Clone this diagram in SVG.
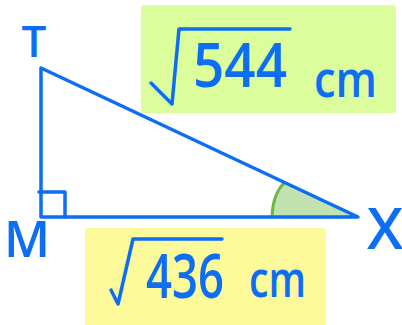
<svg xmlns="http://www.w3.org/2000/svg" width="402" height="325" viewBox="0 0 402 325">
<style>
.edge{fill:none;stroke:#0d6ef4;stroke-width:3.5;stroke-linecap:round;stroke-linejoin:round}
.lbl{fill:#0d6ef4;font-family:"Open Sans","Liberation Sans",sans-serif;font-weight:600}
.rad{fill:none;stroke:#0d6ef4;stroke-width:3.5;stroke-linecap:round;stroke-linejoin:round}
</style>
<rect width="402" height="325" fill="#ffffff"/>
<g id="label-hyp">
<rect x="141" y="5" width="255" height="108" rx="3" fill="#dcfd9c"/>
<path class="rad" d="M151,83 L172,104 L179,29 L290,29"/>
<text class="lbl" x="193" y="87" font-size="62" textLength="94" lengthAdjust="spacingAndGlyphs">544</text>
<text class="lbl" x="314" y="97" font-size="50" textLength="63" lengthAdjust="spacingAndGlyphs">cm</text>
</g>
<g id="label-base">
<rect x="85" y="228" width="241" height="100" rx="3" fill="#fcfa9b"/>
<path class="rad" d="M111,290 L118,304 L133,239 L222,239"/>
<text class="lbl" x="146" y="298" font-size="62" textLength="78" lengthAdjust="spacingAndGlyphs">436</text>
<text class="lbl" x="249" y="297" font-size="50" textLength="57" lengthAdjust="spacingAndGlyphs">cm</text>
</g>
<g id="angle-X">
<path d="M272,217 Q274,194 284,183 L358,217 Z" fill="#c1e3b0"/>
<path d="M272,216 Q273,194 284,183" fill="none" stroke="#6cb944" stroke-width="3" stroke-linecap="round"/>
</g>
<g id="connectors">
<path class="edge" d="M41,68 L41,217 L358,217 Z"/>
<path class="edge" d="M39,192 L65,192 L65,217"/>
</g>
<g id="node-T"><text class="lbl" x="34" y="57" font-size="44" text-anchor="middle">T</text></g>
<g id="node-M"><text class="lbl" x="27" y="257" font-size="50" text-anchor="middle">M</text></g>
<g id="node-X"><text class="lbl" x="385" y="249" font-size="58" text-anchor="middle">X</text></g>
</svg>
